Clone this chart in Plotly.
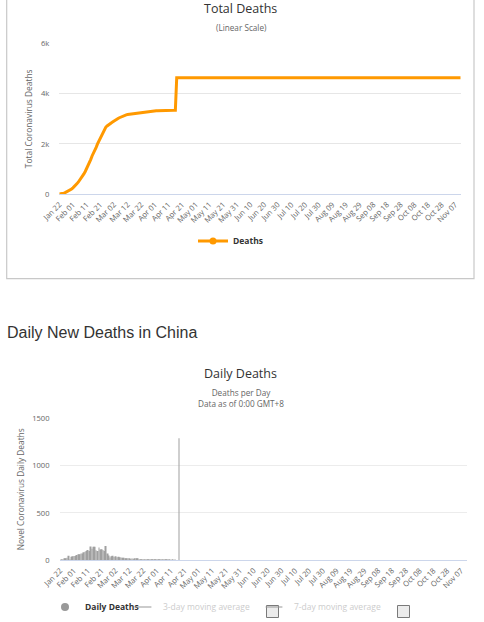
import pandas as pd
import plotly.graph_objects as go

W, H = 484, 622

# ---------------- data ----------------
start_date = "2020-01-22"
end_date = "2020-11-11"

# cumulative deaths, daily from Jan 22 to Apr 17
total_deaths_early = [
    17, 18, 26, 42, 56, 82, 131, 133, 171, 213,
    259, 304, 361, 425, 490, 563, 636, 722, 811, 908,
    1016, 1113, 1259, 1380, 1523, 1665, 1770, 1868, 2004, 2118,
    2236, 2345, 2442, 2592, 2663, 2715, 2744, 2788, 2835,
    2870, 2912, 2943, 2981, 3012, 3042, 3070, 3097, 3119, 3136,
    3158, 3169, 3176, 3189, 3199, 3213, 3226, 3237, 3245, 3248,
    3255, 3261, 3270, 3277, 3281, 3287, 3292, 3295, 3300, 3304, 3305,
    3312, 3318, 3322, 3326, 3329, 3331, 3333, 3335, 3336, 3339,
    3339, 3341, 3341, 3342, 3342, 3342, 4632,
]
# later change points of the plateau
total_deaths_late_dates = ["2020-05-17", "2020-11-11"]
total_deaths_late = [4633, 4634]

# daily new deaths, from Jan 23 to Apr 17
daily_start = "2020-01-23"
daily_deaths = [
    1, 8, 16, 14, 26, 49, 2, 38, 42,
    46, 45, 57, 64, 65, 73, 73, 86, 89, 97,
    108, 97, 146, 121, 143, 142, 105, 98, 136, 114,
    118, 109, 97, 150, 71, 52, 29, 44, 47,
    35, 42, 31, 38, 31, 30, 28, 27, 22, 17,
    22, 11, 7, 13, 10, 14, 13, 11, 8, 3,
    7, 6, 9, 7, 4, 6, 5, 3, 5, 4, 1,
    7, 6, 4, 4, 3, 2, 2, 2, 1, 3,
    0, 2, 0, 1, 0, 0, 1290,
]

y1_tickvals = [0, 2000, 4000, 6000]
y1_ticktext = ["0", "2k", "4k", "6k"]
y2_tickvals = [0, 500, 1000, 1500]
y2_ticktext = ["0", "500", "1000", "1500"]

# ---------------- helpers ----------------
def px(x):
    return x / W


def py(y):
    return 1 - y / H


HC_FONT = "Open Sans"
ORANGE = "#FF9900"
GREY_BAR = "#a0a0a0"
FADED = "#999999"

early_dates = pd.date_range(start_date, periods=len(total_deaths_early), freq="D")
total_x = list(early_dates) + [pd.Timestamp(d) for d in total_deaths_late_dates]
total_y = total_deaths_early + total_deaths_late

daily_x = pd.date_range(daily_start, periods=len(daily_deaths), freq="D")

fig = go.Figure()

# total deaths line
fig.add_trace(go.Scatter(
    x=total_x, y=total_y, mode="lines", name="Deaths",
    line=dict(color=ORANGE, width=3), showlegend=False,
    legendgroup="deaths", xaxis="x", yaxis="y", hoverinfo="x+y",
))
fig.add_trace(go.Scatter(
    x=[None], y=[None], mode="lines+markers", name="<b>Deaths</b>",
    line=dict(color=ORANGE, width=3), marker=dict(color=ORANGE, size=7),
    legendgroup="deaths", legend="legend", xaxis="x", yaxis="y",
))

# daily deaths bars
fig.add_trace(go.Bar(
    x=daily_x, y=daily_deaths, name="Daily Deaths",
    marker=dict(color=GREY_BAR, line=dict(width=0)), showlegend=False,
    legendgroup="daily", xaxis="x2", yaxis="y2",
))
fig.add_trace(go.Scatter(
    x=[None], y=[None], mode="markers", name="<b>Daily Deaths</b>",
    marker=dict(color="#999999", size=8), legendgroup="daily",
    legend="legend2", xaxis="x2", yaxis="y2",
))
# hidden moving-average series (legend only, as in the original)
fig.add_trace(go.Scatter(
    x=[None], y=[None], mode="markers",
    name='<span style="color:#999999">3-day moving average</span>',
    marker=dict(color=FADED, size=12, symbol="line-ew-open",
                line=dict(color=FADED, width=2)),
    visible="legendonly", legend="legend3", xaxis="x2", yaxis="y2",
))
fig.add_trace(go.Scatter(
    x=[None], y=[None], mode="markers",
    name='<span style="color:#999999">7-day moving average</span>',
    marker=dict(color=FADED, size=12, symbol="line-ew-open",
                line=dict(color=FADED, width=2)),
    visible="legendonly", legend="legend4", xaxis="x2", yaxis="y2",
))

tickfont = dict(family=HC_FONT, size=7.6, color="#666666")
xcommon = dict(
    type="date", tick0=start_date, dtick=10 * 86400000, tickformat="%b %d",
    tickangle=-45, tickfont=tickfont, showgrid=False, showline=True,
    linecolor="#ccd6eb", linewidth=1, ticks="", zeroline=False,
    fixedrange=True, ticklabelstandoff=2, automargin=False,
)
ycommon = dict(
    tickfont=tickfont, showgrid=True, gridcolor="#e6e6e6", gridwidth=1,
    zeroline=False, showline=False, ticks="", fixedrange=True,
    ticklabelstandoff=9, automargin=False,
)

legend_common = dict(
    orientation="h", bgcolor="rgba(0,0,0,0)", borderwidth=0,
    font=dict(family=HC_FONT, size=8.5, color="#333333"),
    xanchor="left", yanchor="middle", itemclick=False, itemdoubleclick=False,
)

fig.update_layout(
    width=W, height=H,
    margin=dict(l=0, r=0, t=0, b=0, autoexpand=False),
    paper_bgcolor="white", plot_bgcolor="white",
    font=dict(family=HC_FONT, color="#333333"),
    bargap=0.5,
    xaxis=dict(xcommon, domain=[px(59.3), px(460.7)], anchor="y",
               range=[start_date, end_date]),
    yaxis=dict(ycommon, domain=[py(194.3), py(43.3)], anchor="x",
               range=[0, 6000], tickvals=y1_tickvals, ticktext=y1_ticktext,
               title=dict(text="Total Coronavirus Deaths", standoff=7,
                          font=dict(family=HC_FONT, size=8.4, color="#666666"))),
    xaxis2=dict(xcommon, domain=[px(59.5), px(467.3)], anchor="y2",
                range=["2020-01-21 12:00", "2020-11-11 12:00"]),
    yaxis2=dict(ycommon, domain=[py(560.3), py(418.3)], anchor="x2",
                range=[0, 1500], tickvals=y2_tickvals, ticktext=y2_ticktext,
                gridcolor="#ececec",
                title=dict(text="Novel Coronavirus Daily Deaths", standoff=6,
                           font=dict(family=HC_FONT, size=8.3, color="#666666"))),
    legend=dict(legend_common, x=px(193), y=py(241)),
    legend2=dict(legend_common, x=px(45), y=py(607)),
    legend3=dict(legend_common, x=px(123), y=py(607)),
    legend4=dict(legend_common, x=px(254), y=py(607)),
    showlegend=True,
)

annotations = [
    dict(text="Total Deaths", x=px(240.5), y=py(8.5),
         font=dict(family=HC_FONT, size=12.5, color="#333333")),
    dict(text="(Linear Scale)", x=px(241), y=py(27.3),
         font=dict(family=HC_FONT, size=8.2, color="#666666")),
    dict(text="Daily New Deaths in China", x=px(4.8), y=py(332), xanchor="left",
         font=dict(family="Liberation Sans", size=16, color="#333333")),
    dict(text="Daily Deaths", x=px(240.5), y=py(373),
         font=dict(family=HC_FONT, size=12.5, color="#333333")),
    dict(text="Deaths per Day<br>Data as of 0:00 GMT+8", x=px(240.5), y=py(398),
         font=dict(family=HC_FONT, size=8.2, color="#666666")),
]
for a in annotations:
    a.setdefault("xanchor", "center")
    a.update(xref="paper", yref="paper", yanchor="middle", showarrow=False)
fig.update_layout(annotations=annotations)

shapes = [
    # border box around the first chart
    dict(type="rect", x0=px(6.7), x1=px(474), y0=py(278.7), y1=py(-3),
         line=dict(color="#c8c8c8", width=1.2), fillcolor="rgba(0,0,0,0)"),
    # legend checkboxes
    dict(type="rect", x0=px(266.5), x1=px(278.5), y0=py(617.5), y1=py(605.5),
         line=dict(color="#7a7a7a", width=1), fillcolor="#ececec"),
    dict(type="rect", x0=px(397.5), x1=px(409.5), y0=py(617.5), y1=py(605.5),
         line=dict(color="#7a7a7a", width=1), fillcolor="#ececec"),
]
for s in shapes:
    s.update(xref="paper", yref="paper", layer="above")
fig.update_layout(shapes=shapes)

fig.write_html(
    "out.html",
    config={"displayModeBar": False},
    post_script="document.body.style.margin='0';document.body.style.overflow='hidden';",
)
